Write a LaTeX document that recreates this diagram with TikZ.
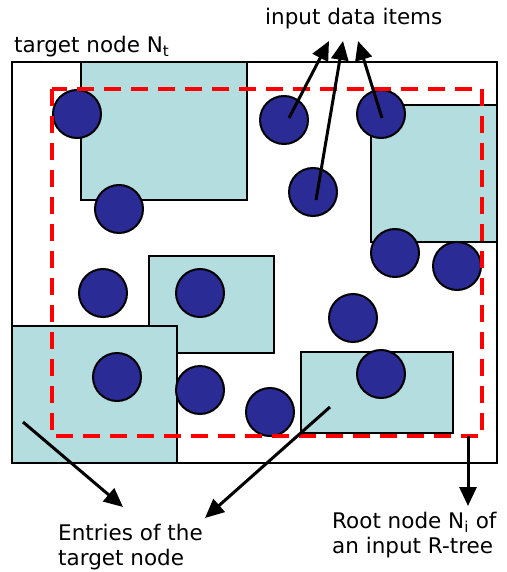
\documentclass[tikz,border=0pt]{standalone}
\usepackage{fontspec}
\setmainfont{DejaVu Sans}
\usetikzlibrary{arrows.meta}
\definecolor{cyanbox}{HTML}{B4DDE0}
\definecolor{dotblue}{HTML}{2B2B96}
\tikzset{
  entry/.style={draw=black, line width=1.6pt, fill=cyanbox},
  item/.style={circle, draw=black, line width=2pt, fill=dotblue, minimum size=48pt, inner sep=0pt},
  outerbox/.style={draw=black, line width=1.8pt},
  rootbox/.style={draw=red, line width=4pt, dash pattern=on 17pt off 10pt},
  pointer/.style={draw=black, line width=3pt, -{Triangle[length=19pt,width=17pt]}},
  lbl/.style={font=\fontsize{21.5}{25}\selectfont, inner sep=0pt, align=left}
}
\begin{document}
\begin{tikzpicture}[x=1pt,y=-1pt]
\useasboundingbox (0,0) rectangle (506,572);
% target node
\draw[outerbox] (12,62) rectangle (497,463);
% entries
\draw[entry] (81,62) rectangle (247,200);
\draw[entry] (371,105) rectangle (497,242);
\draw[entry] (149,256) rectangle (274,353);
\draw[entry] (12,326) rectangle (177,463);
\draw[entry] (301,352) rectangle (453,433);
% data items
\node[item] (c1) at (77,114) {};
\node[item] (c2) at (119,209) {};
\node[item] (c3) at (284,120) {};
\node[item] (c4) at (381,114) {};
\node[item] (c5) at (313,192) {};
\node[item] (c6) at (395,253) {};
\node[item] (c7) at (457,266) {};
\node[item] (c8) at (103,293) {};
\node[item] (c9) at (200,293) {};
\node[item] (c10) at (353,318) {};
\node[item] (c11) at (117,377) {};
\node[item] (c12) at (200,390) {};
\node[item] (c13) at (270,412) {};
\node[item] (c14) at (381,374) {};
% root node of input R-tree
\draw[rootbox] (52,89) rectangle (482,436);
% labels
\node[lbl, anchor=base west] (tn) at (14,53) {target node N\textsubscript{t}};
\node[lbl, anchor=base west] (inp) at (265,25) {input data items};
\node[lbl, anchor=base west] (ent) at (58,565) {Entries of the\\target node};
\node[lbl, anchor=base west] (root) at (332,553) {Root node N\textsubscript{i} of\\an input R-tree};
% coordinates
\coordinate (a1) at (329,41);
\coordinate (a2) at (343,41);
\coordinate (a3) at (358,41);
\coordinate (t1) at (289,118);
\coordinate (t2) at (316,200);
\coordinate (t3) at (382,118);
\coordinate (e1s) at (23,422);
\coordinate (e1) at (123,507);
\coordinate (e2s) at (330,407);
\coordinate (e2) at (205,518);
\coordinate (rs) at (468,436);
\coordinate (r) at (468,506);
% arrows
\draw[pointer] (t1) -- (a1);
\draw[pointer] (t2) -- (a2);
\draw[pointer] (t3) -- (a3);
\draw[pointer] (e1s) -- (e1);
\draw[pointer] (e2s) -- (e2);
\draw[pointer] (rs) -- (r);
\end{tikzpicture}
\end{document}
